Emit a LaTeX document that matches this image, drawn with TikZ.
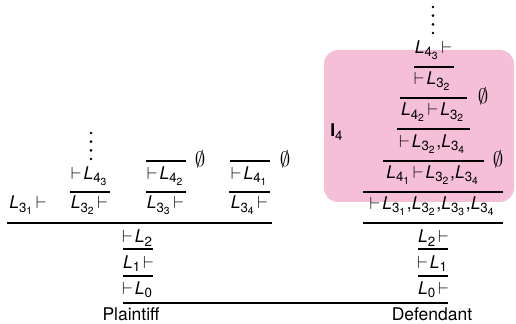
\documentclass[tikz,border=0pt]{standalone}
\usepackage{amsmath}
\usepackage{fontspec}
\setmainfont{TeX Gyre Heros}
\DeclareMathSizes{10}{10}{7.6}{5.9}
\definecolor{blockpink}{RGB}{245,191,216}
\newcommand\Ld[2]{\text{\itshape L}_{\text{#1}_{\text{#2}}}}
\newcommand\Ls[1]{\text{\itshape L}_{\text{#1}}}
\newcommand\cmm{\text{,}}
\newcommand\vd{\mathrel{\mkern-1mu\vdash\mkern-1mu}}
\begin{document}
\begin{tikzpicture}[x=0.5714pt,y=-0.5714pt,
  t/.style={inner sep=0pt, anchor=base, execute at begin node={\thickmuskip=3mu}},
  rule/.style={line width=1.3pt},
  lbl/.style={inner sep=0pt, anchor=center, font=\large}]
\useasboundingbox (0,0) rectangle (516,324);
% pink block
\fill[blockpink, rounded corners=8pt] (324,50) rectangle (514,202);
\node[t, anchor=base west] (I4) at (330,137) {$\text{\bfseries I}_{\text{4}}$};

% ---------------- left tree (Plaintiff) ----------------
\foreach \yy in {133,141.7,150.4,159} {\fill (91,\yy) circle (0.85pt);}
\node[t] (a43) at (90,179.5) {$\vd\Ld43$};
\node[t] (a42) at (166,179.5) {$\vd\Ld42$};
\node[t] (a41) at (250,179.5) {$\vd\Ld41$};
\draw[rule] (146,161) -- (186,161);
\draw[rule] (230,161) -- (270,161);
\node[lbl] (e1) at (200,159) {$\emptyset$};
\node[lbl] (e2) at (285,159) {$\emptyset$};
\draw[rule] (70,192) -- (110,192);
\draw[rule] (146,192) -- (186,192);
\draw[rule] (229,192) -- (270,192);
\node[t] (b31) at (27.5,209) {$\Ld31\vd$};
\node[t] (b32) at (89,209) {$\Ld32\vd$};
\node[t] (b33) at (165,209) {$\Ld33\vd$};
\node[t] (b34) at (249,209) {$\Ld34\vd$};
\draw[rule] (7,222.7) -- (272,222.7);
\node[t] (p2) at (138,243) {$\vd\Ls2$};
\draw[rule] (123,249.3) -- (153,249.3);
\node[t] (p1) at (138,268) {$\Ls1\vd$};
\draw[rule] (123,275.7) -- (153,275.7);
\node[t] (p0) at (138,294) {$\vd\Ls0$};
\node[t] (pl) at (131,320.5) {Plaintiff};

% ---------------- right tree (Defendant) ----------------
\foreach \yy in {7,15.7,24.4,33} {\fill (433,\yy) circle (0.85pt);}
\node[t] (r1) at (433,53.3) {$\Ld43\vd$};
\draw[rule] (414,66.7) -- (454,66.7);
\node[t] (r2) at (433,84.3) {$\vd\Ld32$};
\draw[rule] (400,97.7) -- (467,97.7);
\node[lbl] (e3) at (483,96) {$\emptyset$};
\node[t] (r3) at (433,116) {$\Ld42\vd\Ld32$};
\draw[rule] (397,129.3) -- (470,129.3);
\node[t] (r4) at (433,147.3) {$\vd\Ld32\cmm\Ld34$};
\draw[rule] (383,160.7) -- (484,160.7);
\node[lbl] (e4) at (498,159) {$\emptyset$};
\node[t] (r5) at (433,178.3) {$\Ld41\vd\Ld32\cmm\Ld34$};
\draw[rule] (363,191.7) -- (503,191.7);
\node[t] (r6) at (433,209.3) {$\vd\Ld31\cmm\Ld32\cmm\Ld33\cmm\Ld34$};
\draw[rule] (363,222.7) -- (503,222.7);
\node[t] (d2) at (433,243) {$\Ls2\vd$};
\draw[rule] (418,249.3) -- (448,249.3);
\node[t] (d1) at (433,268) {$\vd\Ls1$};
\draw[rule] (418,275.7) -- (448,275.7);
\node[t] (d0) at (433,294) {$\Ls0\vd$};
\node[t] (df) at (432,320.5) {Defendant};

% shared bottom rule
\draw[rule] (123,302.7) -- (448,302.7);
\end{tikzpicture}
\end{document}
